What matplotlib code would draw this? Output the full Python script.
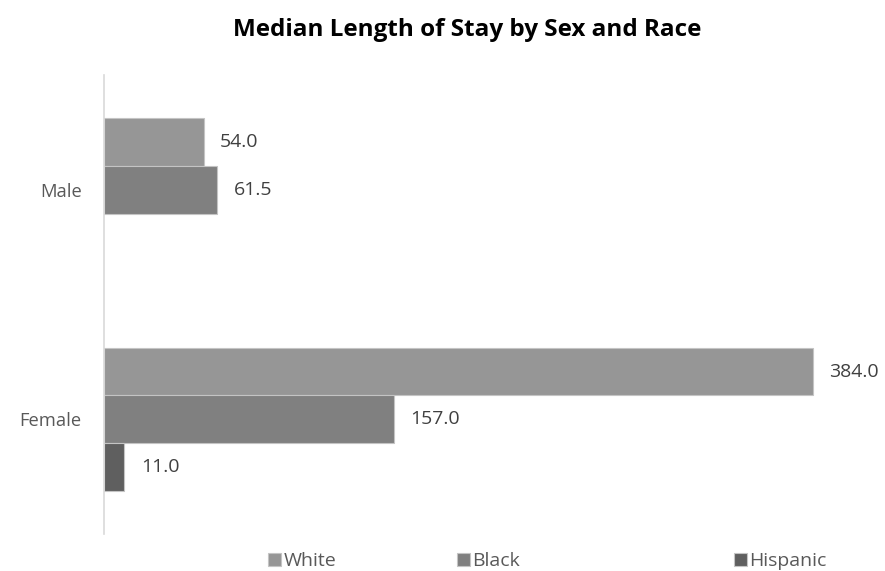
import numpy as np
import matplotlib
matplotlib.use('Agg')
import matplotlib.pyplot as plt

plt.rcParams['font.family'] = ['Open Sans', 'DejaVu Sans']

sexes = ['Female', 'Male']
races = ['White', 'Black', 'Hispanic']
white = [384.0, 54.0]
black = [157.0, 61.5]
hispanic = [11.0, None]
colors = ['#969696', '#808080', '#5f5f5f']

fig = plt.figure(figsize=(8.85, 5.71), dpi=100, facecolor='white')
ax = fig.add_axes([0.1175, 0.0648, 0.834, 0.8039])

y = np.arange(len(sexes))
h = 0.208
offsets = [h, 0, -h]
series = [white, black, hispanic]
handles = []
for vals, off, col, name in zip(series, offsets, colors, races):
    ys = [yy + off for yy, v in zip(y, vals) if v is not None]
    vs = [v for v in vals if v is not None]
    b = ax.barh(ys, vs, height=h, color=col, edgecolor='#c4c4c4', linewidth=0.8, label=name)
    handles.append(b)
    for yy, v in zip(ys, vs):
        ax.text(v + 9, yy, f'{v:.1f}', va='center', ha='left', fontsize=14, color='#404040')

ax.set_xlim(0, 400)
ax.set_ylim(-0.5, 1.5)
ax.set_yticks(y)
ax.set_yticklabels(sexes, fontsize=13.2, color='#595959')
ax.tick_params(axis='y', length=0, pad=16)
ax.set_xticks([])
for s in ['top', 'right', 'bottom']:
    ax.spines[s].set_visible(False)
ax.spines['left'].set_color('#d9d9d9')
ax.spines['left'].set_linewidth(1.2)

fig.text(0.528, 0.947, 'Median Length of Stay by Sex and Race', ha='center', va='center',
         fontsize=17.5, fontweight='bold', color='black')

# legend entries are not evenly spaced in the original, so one legend per entry
leg_x = [268, 457, 734]
for hd, name, lx in zip(handles, races, leg_x):
    leg = fig.legend([hd], [name], loc='center left', bbox_to_anchor=(lx / 885, 10 / 571),
                     frameon=False, fontsize=14, handlelength=0.65, handleheight=0.65,
                     handletextpad=0.15, borderpad=0, borderaxespad=0)
    for t in leg.get_texts():
        t.set_color('#595959')

plt.savefig('out.png', dpi=100)
